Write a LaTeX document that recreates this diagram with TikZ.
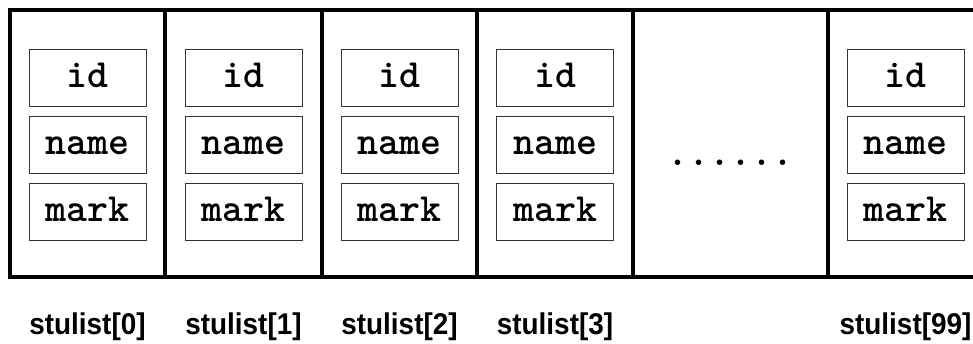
\documentclass[tikz,border=0pt]{standalone}
\usepackage{fontspec}
\setsansfont{Liberation Sans}
\begin{document}
\begin{tikzpicture}[x=1pt,y=-1pt,
  monofont/.style={font=\ttfamily\bfseries\fontsize{40}{40}\selectfont\addfontfeature{FakeBold=1.5}},
  cell/.style={draw=black, line width=3.3pt, minimum width=#1,
    minimum height=267pt, inner sep=0pt, outer sep=0pt},
  field/.style={monofont, draw=black!80, line width=1pt, minimum width=117pt,
    minimum height=57pt, inner sep=0pt, text height=22pt, text depth=3pt},
  idx/.style={anchor=base, inner sep=0pt,
    font=\sffamily\bfseries\fontsize{30}{30}\selectfont\addfontfeature{FakeStretch=0.93}}]
\useasboundingbox (0,0) rectangle (973,343);
\clip (0,0) rectangle (973,343);
% array elements: name / left edge / right edge
\foreach \n/\l/\r in {0/10/165, 1/165/322, 2/322/477, 3/477/633, 99/828/983}{
  \node[cell={\r-\l}] (c\n) at ({(\l+\r)/2},143.5) {};
  \node[field] (id\n)   at ({(\l+\r)/2},77.5)  {id};
  \node[field] (name\n) at ({(\l+\r)/2},144.5) {name};
  \node[field] (mark\n) at ({(\l+\r)/2},211.5) {mark};
  \node[idx] (lab\n) at ({(\l+\r)/2},334) {stulist[\n]};
}
% elided elements
\node[cell=195] (cgap) at (730.5,143.5) {};
\node[monofont, anchor=base, inner sep=0pt] (dots) at (730.5,165) {......};
\end{tikzpicture}
\end{document}
